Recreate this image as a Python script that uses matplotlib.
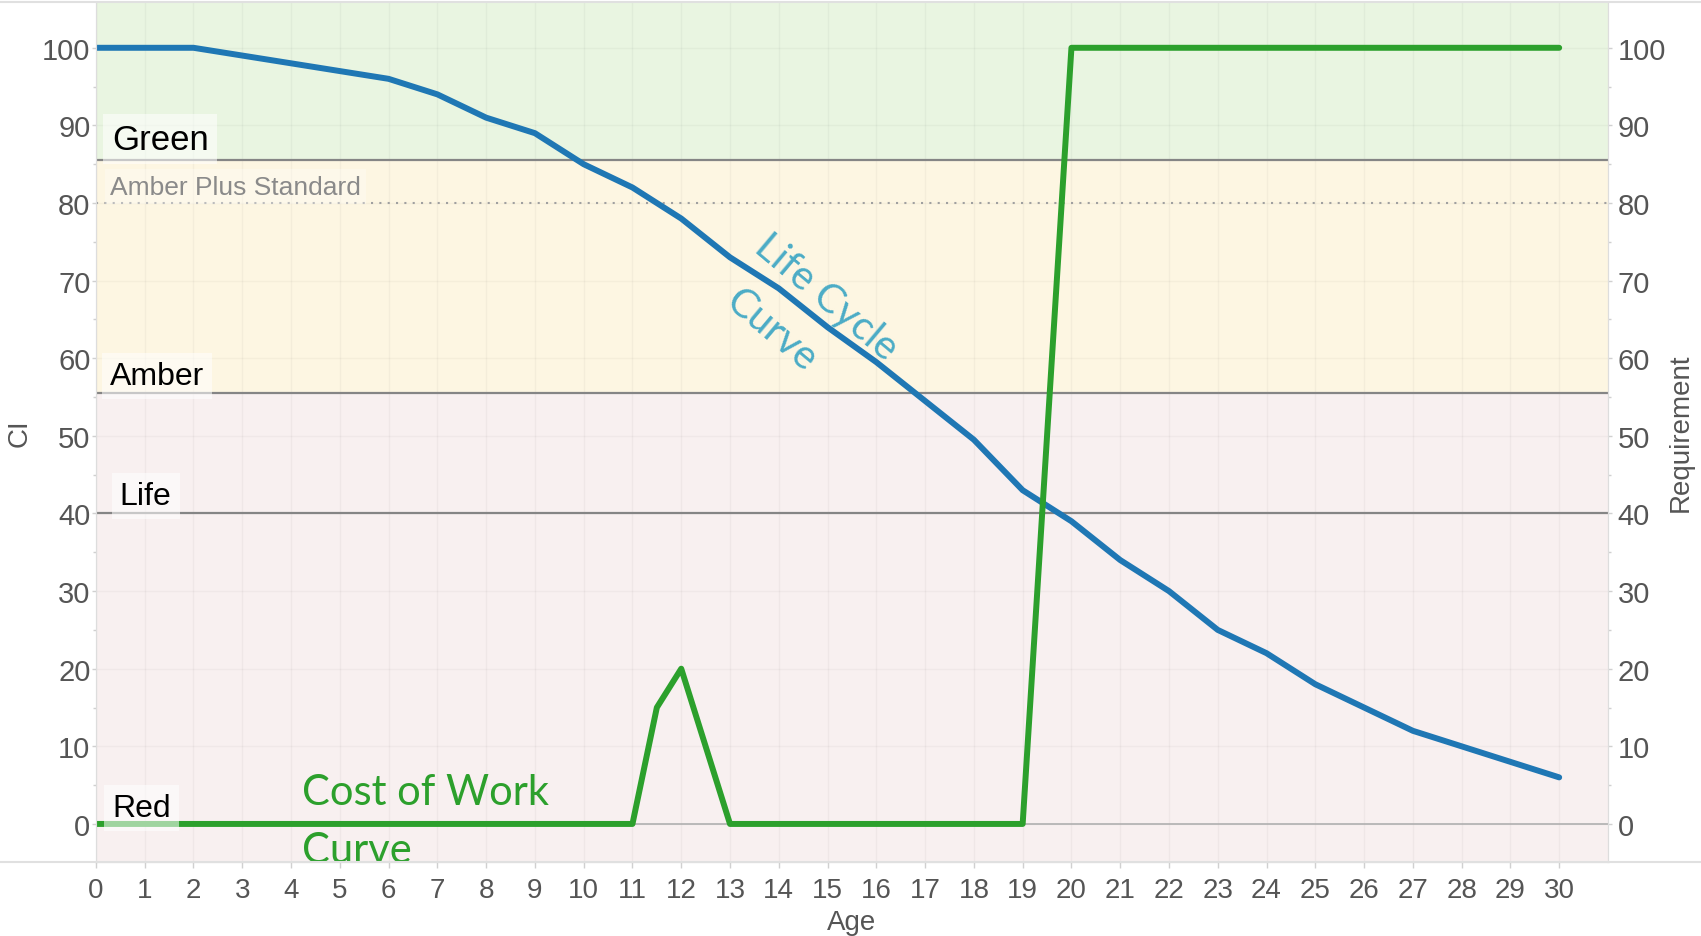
import matplotlib
matplotlib.use("Agg")
import matplotlib.pyplot as plt
from matplotlib.lines import Line2D

# --- data ---
age = list(range(31))
ci = [100, 100, 100, 99, 98, 97, 96, 94, 91, 89, 85, 82, 78, 73, 69, 64,
      59.5, 54.5, 49.5, 43, 39, 34, 30, 25, 22, 18, 15, 12, 10, 8, 6]
req_age = [0, 11, 11.5, 12, 13, 19, 20, 30]
req = [0, 0, 15, 20, 0, 0, 100, 100]

bands = [(-10, 55.5, '#f8f0f0'), (55.5, 85.5, '#fdf6e2'), (85.5, 120, '#e9f5e1')]
band_lines = [85.5, 55.5, 40]
amber_plus = 80

plt.rcParams['font.family'] = ['Liberation Sans', 'DejaVu Sans']

fig = plt.figure(figsize=(17.01, 9.37), dpi=100)
ax = fig.add_axes([0.0564, 0.0790, 0.8889, 0.9178])
ax2 = ax.twinx()

ylim = (-4.9, 105.9)
ax.set_xlim(0, 31)
ax.set_ylim(*ylim)
ax2.set_ylim(*ylim)

# --- background bands and reference lines ---
for lo, hi, col in bands:
    ax.axhspan(lo, hi, color=col, zorder=0, lw=0)
for x in age:
    ax.axvline(x, color=(0, 0, 0, 0.035), lw=1, zorder=0.5)
for y in range(0, 101, 10):
    ax.axhline(y, color=(0, 0, 0, 0.03), lw=1, zorder=0.5)
for y in band_lines:
    ax.axhline(y, color='#858585', lw=1.6, zorder=1)
ax.axhline(0, color='#b0b0b0', lw=1.2, zorder=1)
ax.axhline(amber_plus, color='#a0a0a0', lw=1.5, ls=(0, (1, 3)), zorder=1)

# --- curves ---
ax.plot(age, ci, color='#1f77b4', lw=4.3, solid_capstyle='round',
        solid_joinstyle='round', zorder=3)
ax.plot(req_age, req, color='#2ca02c', lw=4.3, solid_capstyle='round',
        solid_joinstyle='round', zorder=4)

# --- band labels ---
box = dict(boxstyle='square,pad=0.25', fc='white', ec='none', alpha=0.55)
ax.text(0.33, 87.0, 'Green', fontsize=25, color='black', bbox=box, zorder=5)
ax.text(0.29, 81.2, 'Amber Plus Standard', fontsize=19, color='#8a8a8a',
        bbox=dict(boxstyle='square,pad=0.2', fc='white', ec='none', alpha=0.3), zorder=5)
ax.text(0.29, 56.7, 'Amber', fontsize=23, color='black', bbox=box, zorder=5)
ax.text(0.49, 41.2, 'Life', fontsize=23, color='black', bbox=box, zorder=5)
ax.text(0.33, 1.0, 'Red', fontsize=23, color='black', bbox=box, zorder=5)

# --- curve callouts ---
ax.text(4.22, 2.6, 'Cost of Work', fontsize=30, color='#2ca02c',
        family=['Lato', 'DejaVu Sans'], zorder=6, clip_on=False)
ax.text(4.22, -4.9, 'Curve', fontsize=30, color='#2ca02c',
        family=['Lato', 'DejaVu Sans'], zorder=6, clip_on=False)
ax.text(14.98, 67.9, 'Life Cycle', fontsize=29, color='#4bacc6', rotation=-40,
        rotation_mode='anchor', ha='center', va='center',
        family=['Lato', 'DejaVu Sans'], zorder=6)
ax.text(13.85, 63.7, 'Curve', fontsize=29, color='#4bacc6', rotation=-40,
        rotation_mode='anchor', ha='center', va='center',
        family=['Lato', 'DejaVu Sans'], zorder=6)

# --- axes styling ---
ax.set_xticks(age)
ax.set_yticks(range(0, 101, 10))
ax.set_yticks(range(5, 101, 10), minor=True)
ax2.set_yticks(range(0, 101, 10))
ax2.set_yticks(range(5, 101, 10), minor=True)
for a in (ax, ax2):
    for s in a.spines.values():
        s.set_color('#dddddd')
    a.spines['top'].set_visible(False)
    a.tick_params(which='both', color='#d0d0d0', length=3, width=1, labelcolor='#555555')
    a.tick_params(which='minor', length=2)
ax.tick_params(axis='y', labelsize=21, pad=1)
ax.tick_params(axis='x', labelsize=20, pad=7, length=4)
ax2.tick_params(axis='y', labelsize=21, pad=4)

ax.set_xlabel('Age', fontsize=20, color='#555555', labelpad=4)
ax.set_ylabel('CI', fontsize=20, color='#555555')
ax2.set_ylabel('Requirement', fontsize=20, color='#555555')
ax.yaxis.set_label_coords(-0.0417, 0.5)
ax2.yaxis.set_label_coords(1.0397, 0.5)

# full-width frame lines (top and bottom)
fig.add_artist(Line2D([0, 1], [0.0790, 0.0790], transform=fig.transFigure,
                      color='#e0e0e0', lw=1.5))
fig.add_artist(Line2D([0, 1], [0.9968, 0.9968], transform=fig.transFigure,
                      color='#e0e0e0', lw=1.5))

fig.savefig('out.png', dpi=100)
